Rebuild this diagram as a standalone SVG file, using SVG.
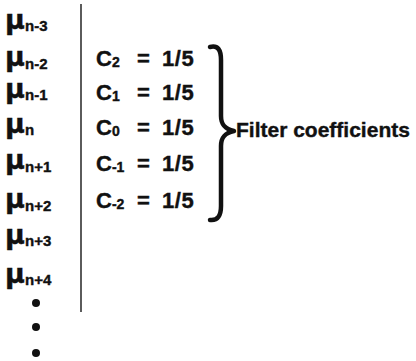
<svg xmlns="http://www.w3.org/2000/svg" width="416" height="361" viewBox="0 0 416 361">
<style>
text{font-family:"Liberation Sans",Arial,Helvetica,sans-serif;font-weight:bold;fill:#111;stroke:#111;stroke-width:0.4}
.mu{font-family:"DejaVu Sans",sans-serif;font-size:27px}
.sub{font-size:15px}
.c{font-size:22px}
.cs{font-size:14px}
.lbl{font-size:21px}
.v{letter-spacing:0.6px}
</style>
<rect width="416" height="361" fill="#fff"/>
<g id="samples">
<text x="5" y="29"><tspan class="mu">μ</tspan><tspan class="sub" x="25" y="31">n-3</tspan></text>
<text x="5" y="66"><tspan class="mu">μ</tspan><tspan class="sub" x="25" y="69">n-2</tspan></text>
<text x="5" y="98"><tspan class="mu">μ</tspan><tspan class="sub" x="25" y="100">n-1</tspan></text>
<text x="5" y="133"><tspan class="mu">μ</tspan><tspan class="sub" x="25" y="135">n</tspan></text>
<text x="5" y="169"><tspan class="mu">μ</tspan><tspan class="sub" x="25" y="172">n+1</tspan></text>
<text x="5" y="208"><tspan class="mu">μ</tspan><tspan class="sub" x="25" y="211">n+2</tspan></text>
<text x="5" y="244"><tspan class="mu">μ</tspan><tspan class="sub" x="25" y="246">n+3</tspan></text>
<text x="5" y="283"><tspan class="mu">μ</tspan><tspan class="sub" x="25" y="285">n+4</tspan></text>
<circle cx="36" cy="303" r="4" fill="#111"/>
<circle cx="36" cy="327" r="4" fill="#111"/>
<circle cx="36" cy="353" r="4" fill="#111"/>
</g>
<g id="divider">
<line x1="81" y1="4" x2="81" y2="312" stroke="#333" stroke-width="1.6"/>
</g>
<g id="coefficients">
<text x="96" y="66"><tspan class="c">C</tspan><tspan class="cs" dy="1">2</tspan><tspan class="c" x="137" y="66">=</tspan><tspan class="c v" x="162">1/5</tspan></text>
<text x="96" y="100"><tspan class="c">C</tspan><tspan class="cs" dy="1">1</tspan><tspan class="c" x="137" y="100">=</tspan><tspan class="c v" x="162">1/5</tspan></text>
<text x="96" y="135"><tspan class="c">C</tspan><tspan class="cs" dy="1">0</tspan><tspan class="c" x="137" y="135">=</tspan><tspan class="c v" x="162">1/5</tspan></text>
<text x="96" y="171"><tspan class="c">C</tspan><tspan class="cs" dy="1">-1</tspan><tspan class="c" x="137" y="171">=</tspan><tspan class="c v" x="162">1/5</tspan></text>
<text x="96" y="208"><tspan class="c">C</tspan><tspan class="cs" dy="1">-2</tspan><tspan class="c" x="137" y="208">=</tspan><tspan class="c v" x="162">1/5</tspan></text>
</g>
<g id="brace">
<path d="M210,47 C218,45 221,50 221,60 L221,116 C221,125 225,129 234,131 C225,133 221,137 221,146 L221,206 C221,215 218,221 210,220" fill="none" stroke="#111" stroke-width="4.5" stroke-linecap="round" stroke-linejoin="round"/>
</g>
<g id="label">
<text class="lbl" x="236" y="137">Filter coefficients</text>
</g>
</svg>
